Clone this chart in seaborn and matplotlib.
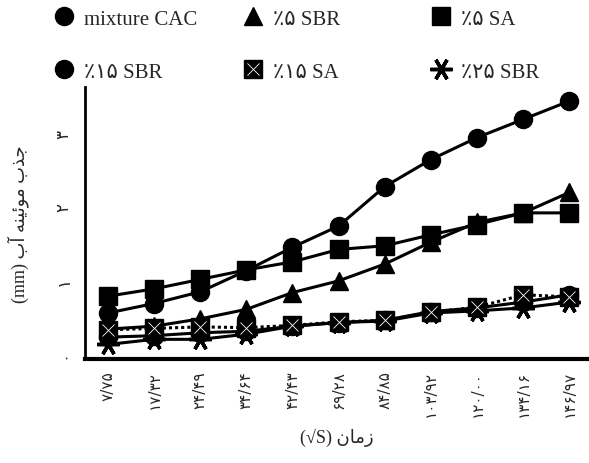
import matplotlib
matplotlib.use("Agg")
import matplotlib.pyplot as plt
from matplotlib.lines import Line2D
from matplotlib.legend_handler import HandlerTuple
import pandas as pd
import seaborn as sns

# x categories (sqrt of time), Persian digits
time_labels = ['۷/۷۵', '۱۷/۳۲', '۲۴/۴۹', '۳۴/۶۴', '۴۲/۴۳', '۶۹/۲۸',
               '۸۴/۸۵', '۱۰۳/۹۲', '۱۲۰/۰۰', '۱۳۴/۱۶', '۱۴۶/۹۷']

cac_mix = [0.55, 0.68, 0.84, 1.13, 1.45, 1.74, 2.28, 2.65, 2.95, 3.20, 3.45]
sbr_5 = [0.33, 0.37, 0.47, 0.60, 0.83, 0.99, 1.22, 1.52, 1.79, 1.92, 2.20]
sa_5 = [0.78, 0.88, 1.01, 1.14, 1.25, 1.42, 1.47, 1.62, 1.76, 1.92, 1.92]
sbr_15 = [0.22, 0.24, 0.28, 0.30, 0.37, 0.42, 0.45, 0.57, 0.62, 0.70, 0.80]
sa_15 = [0.32, 0.34, 0.36, 0.35, 0.38, 0.43, 0.45, 0.56, 0.63, 0.80, 0.77]
sbr_25 = [0.12, 0.19, 0.19, 0.26, 0.37, 0.42, 0.44, 0.55, 0.58, 0.62, 0.70]

df = pd.DataFrame({'t': time_labels, 'cac': cac_mix, 'sbr5': sbr_5, 'sa5': sa_5,
                   'sbr15': sbr_15, 'sa15': sa_15, 'sbr25': sbr_25})

sns.set_style('white')
plt.rcParams['font.family'] = ['Liberation Serif', 'DejaVu Sans']

fig = plt.figure(figsize=(5.89, 4.64), dpi=100)
ax = fig.add_axes([0.144, 0.224, 0.854, 0.586])

lw = 2.2
ms = 13
star = (6, 2, 90)
series = [
    ('cac', 'o', '-', 'mixture CAC'),
    ('sbr5', '^', '-', '٪۵ SBR'),
    ('sa5', 's', '-', '٪۵ SA'),
    ('sbr15', 'o', '-', '٪۱۵ SBR'),
    ('sa15', 's', (0, (1, 1)), '٪۱۵ SA'),
    ('sbr25', star, '-', '٪۲۵ SBR'),
]
handles = {}
for col, mk, ls, lab in series:
    mew = 2.5 if mk == star else 1
    size = 16 if mk == star else ms
    sns.lineplot(data=df, x='t', y=col, ax=ax, sort=False, color='black',
                 marker=mk, markersize=size, markeredgewidth=mew,
                 markeredgecolor='black', linewidth=lw, linestyle=ls)
    handles[lab] = Line2D([], [], color='black', marker=mk, linestyle='none',
                          markersize=size, markeredgewidth=mew)

# thin white cross inside the 15% SA squares
ax.plot(range(len(time_labels)), sa_15, linestyle='none', marker='x',
        color='white', markersize=9, markeredgewidth=0.6)
handles['٪۱۵ SA'] = (handles['٪۱۵ SA'],
                     Line2D([], [], color='white', marker='x', linestyle='none',
                            markersize=9, markeredgewidth=0.6))

ax.set_xlim(-0.5, 10.4)
ax.set_ylim(-0.08, 3.64)
ax.set_yticks([0, 1, 2, 3])
ax.set_yticklabels(['۰', '۱', '۲', '۳'], rotation=90, va='center',
                   fontsize=12, family=['DejaVu Sans'])
ax.set_xticks(range(len(time_labels)))
ax.set_xticklabels(time_labels, rotation=90, fontsize=11,
                   family=['DejaVu Sans'])
ax.tick_params(axis='both', length=0)
ax.tick_params(axis='y', pad=9)
ax.tick_params(axis='x', pad=8)

for s in ['top', 'right']:
    ax.spines[s].set_visible(False)
ax.spines['left'].set_linewidth(2)
ax.spines['bottom'].set_linewidth(3)
ax.spines['left'].set_color('black')
ax.spines['bottom'].set_color('black')

# y label: "جذب موئینه آب (mm)" in visual order with presentation forms
ylab = '(mm) \uFE8F\uFE81 \uFEEA\uFEE8\uFEF4\uFE8B\uFEEE\uFEE3 \uFE8F\uFEAC\uFE9F'
ax.set_ylabel(ylab, fontsize=13, labelpad=18)
# x label: "زمان (√S)"
xlab = '(√S) \uFEE5\uFE8E\uFEE3\uFEAF'
ax.set_xlabel(xlab, fontsize=13, labelpad=8)

# legend: three columns of two rows, placed separately
columns = [(['mixture CAC', '٪۱۵ SBR'], 0.087),
           (['٪۵ SBR', '٪۱۵ SA'], 0.409),
           (['٪۵ SA', '٪۲۵ SBR'], 0.728)]
for labs, x0 in columns:
    fig.legend([handles[k] for k in labs], labs, frameon=False,
               loc='upper left', bbox_to_anchor=(x0, 0.978),
               fontsize=15, labelspacing=1.6, handletextpad=0.35,
               handlelength=1.2, borderpad=0, borderaxespad=0,
               handler_map={tuple: HandlerTuple(ndivide=1)})

fig.savefig('out.png', dpi=100)
